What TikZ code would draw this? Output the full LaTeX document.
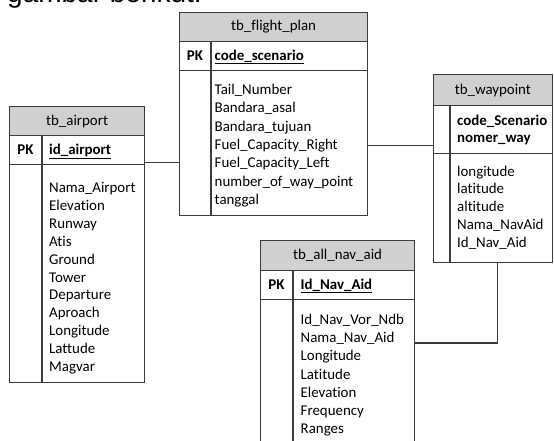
\documentclass[tikz,border=0pt]{standalone}
\usepackage{fontspec}
\setmainfont{Carlito}[Ligatures=NoCommon]
\newfontfamily\ueberfont{Liberation Sans}
\usepackage{xcolor}
\definecolor{tb-kopfgrau}{HTML}{D0D0D0}
\definecolor{tb-linie}{HTML}{3C3C3C}
\newcommand\tabschrift{\fontsize{14.9pt}{18.2pt}\selectfont}

\tikzset{
    tabrahmen/.style={draw=tb-linie, line width=1.2pt, anchor=north west, inner sep=0pt},
    tabkopf/.style={tabrahmen, fill=tb-kopfgrau},
    feld/.style={anchor=base west, inner sep=0pt},
    schluessel/.style={feld, font=\tabschrift\bfseries},
    pkmarke/.style={anchor=base, inner sep=0pt, font=\tabschrift\bfseries},
    verbindung/.style={draw=tb-linie, line width=1.2pt}
}

\begin{document}
\begin{tikzpicture}[x=1pt, y=-1pt, font=\tabschrift]
    \useasboundingbox (0,0) rectangle (554,440);

    % Abgeschnittene Zeile oben
    \node[anchor=base west, inner sep=0pt, font=\ueberfont\fontsize{28pt}{34pt}\selectfont] (titel) at (7,2) {gambar berikut:};

    % Tabelle tb_flight_plan
    \node[tabkopf, minimum width=188pt, minimum height=29pt] (plan-kopf) at (179,12) {tb\_flight\_plan};
    \node[tabrahmen, minimum width=188pt, minimum height=29pt] (plan-pk) at (179,41) {};
    \node[tabrahmen, minimum width=188pt, minimum height=145pt] (plan-rumpf) at (179,70) {};
    \draw[verbindung] (211,41) -- (211,215);
    \node[pkmarke] at (195,60) {PK};
    \node[schluessel] (plan-key) at (214.5,60) {\underline{code\_scenario}};
    \foreach \f [count=\i] in {Tail\_Number, Bandara\_asal, Bandara\_tujuan, Fuel\_Capacity\_Right,
        Fuel\_Capacity\_Left, number\_of\_way\_point, tanggal} {
        \node[feld] (plan-f\i) at (214.5, {94.5+18.33*(\i-1)}) {\f};
    }

    % Tabelle tb_airport
    \node[tabkopf, minimum width=135pt, minimum height=29pt] (airport-kopf) at (9,106) {tb\_airport};
    \node[tabrahmen, minimum width=135pt, minimum height=29pt] (airport-pk) at (9,135) {};
    \node[tabrahmen, minimum width=135pt, minimum height=218pt] (airport-rumpf) at (9,164) {};
    \draw[verbindung] (42,135) -- (42,382);
    \node[pkmarke] at (25.5,154) {PK};
    \node[schluessel] (airport-key) at (49,154) {\underline{id\_airport}};
    \foreach \f [count=\i] in {Nama\_Airport, Elevation, Runway, Atis, Ground, Tower,
        Departure, Aproach, Longitude, Lattude, Magvar} {
        \node[feld] (airport-f\i) at (49, {192.5+17.9*(\i-1)}) {\f};
    }

    % Tabelle tb_waypoint
    \node[tabkopf, minimum width=118.5pt, minimum height=31pt] (wp-kopf) at (433,74) {tb\_waypoint};
    \node[tabrahmen, minimum width=118.5pt, minimum height=48pt] (wp-key) at (433,105) {};
    \node[tabrahmen, minimum width=118.5pt, minimum height=109pt] (wp-rumpf) at (433,153) {};
    \draw[verbindung] (450,105) -- (450,262);
    \node[schluessel] (wp-key1) at (457,125) {code\_Scenario};
    \node[schluessel] (wp-key2) at (457,142) {nomer\_way};
    \foreach \f [count=\i] in {longitude, latitude, altitude, Nama\_NavAid, Id\_Nav\_Aid} {
        \node[feld] (wp-f\i) at (457, {176+17.9*(\i-1)}) {\f};
    }

    % Tabelle tb_all_nav_aid
    \node[tabkopf, minimum width=154pt, minimum height=30pt] (nav-kopf) at (260,240) {tb\_all\_nav\_aid};
    \node[tabrahmen, minimum width=154pt, minimum height=29pt] (nav-pk) at (260,270) {};
    \node[tabrahmen, minimum width=154pt, minimum height=170pt] (nav-rumpf) at (260,299) {};
    \draw[verbindung] (293,270) -- (293,469);
    \node[pkmarke] at (276.5,289) {PK};
    \node[schluessel] (nav-key) at (300.5,289) {\underline{Id\_Nav\_Aid}};
    \foreach \f [count=\i] in {Id\_Nav\_Vor\_Ndb, Nama\_Nav\_Aid, Longitude, Latitude,
        Elevation, Frequency, Ranges} {
        \node[feld] (nav-f\i) at (300.5, {324.5+18.2*(\i-1)}) {\f};
    }

    % Beziehungen
    \coordinate (p1) at ([yshift=3pt]airport-pk.south east);
    \draw[verbindung] (p1) -- (p1 -| plan-rumpf.west);
    \coordinate (p2) at ([yshift=9pt]wp-key.south west);
    \draw[verbindung] (p2) -- (p2 -| plan-rumpf.east);
    \coordinate (p3) at ([yshift=-44pt]nav-rumpf.north east);
    \draw[verbindung] (p3) -| ([xshift=4.5pt]wp-rumpf.south);
\end{tikzpicture}
\end{document}
